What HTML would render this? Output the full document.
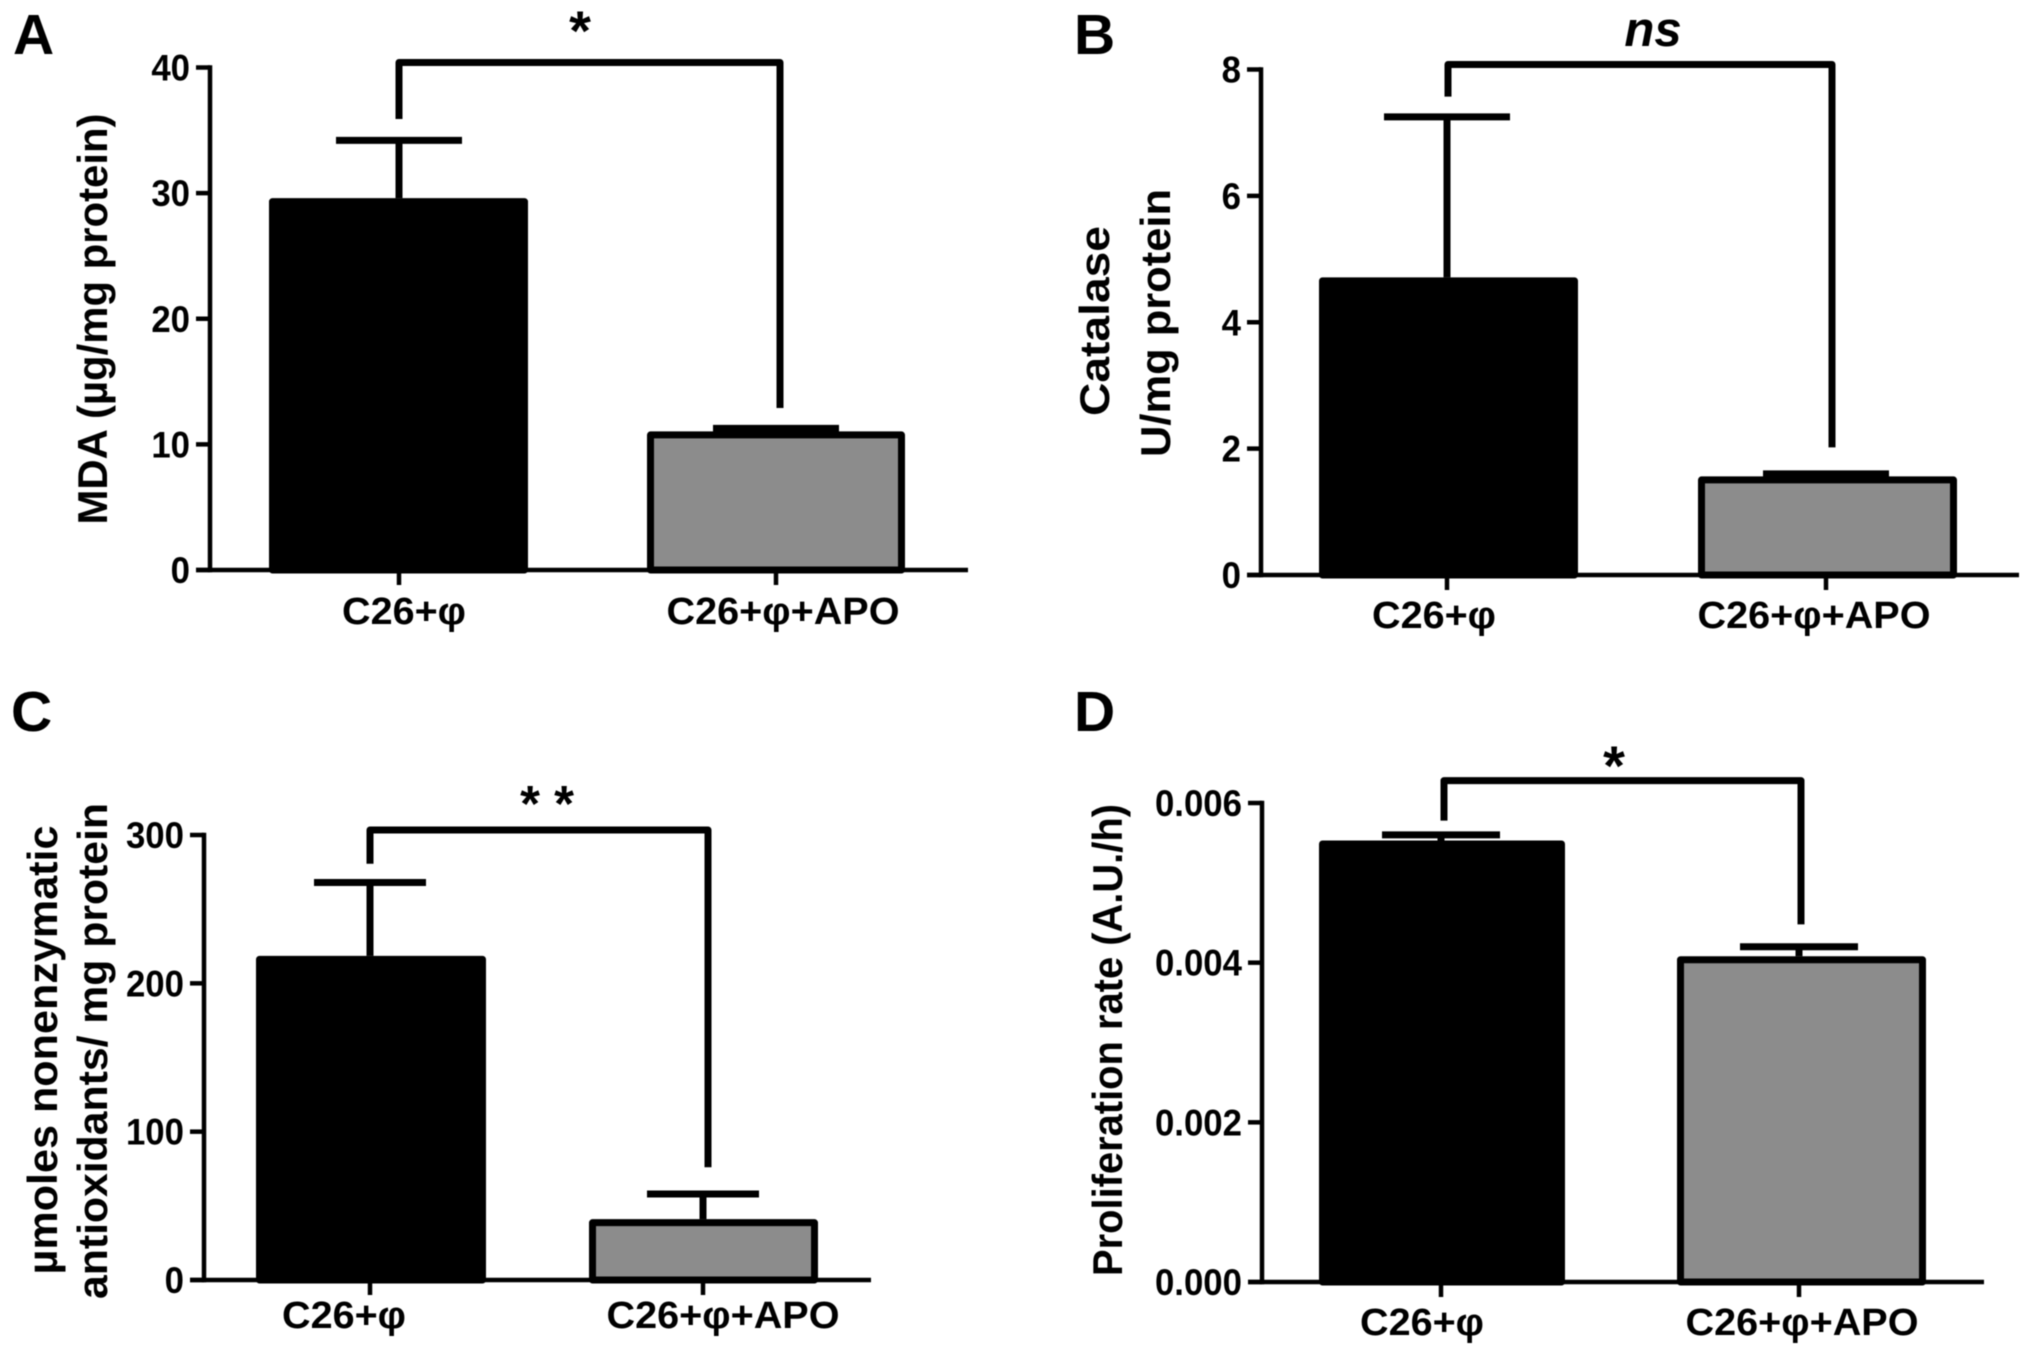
<!DOCTYPE html>
<html lang="en">
<head>
<meta charset="utf-8">
<title>Four-panel bar charts</title>
<style>
html,body{margin:0;padding:0;background:#fff;}
svg{display:block;filter:blur(0.6px);}
text{font-family:"Liberation Sans",sans-serif;font-weight:bold;fill:#000;}
.letter{font-size:57px;}
.title{font-size:42px;}
.tick{font-size:37px;}
.cat{font-size:38px;}
.sig{font-size:56px;}
.sig-double{font-size:51px;}
.ns{font-size:49px;}
</style>
</head>
<body>
<svg id="figure" xmlns="http://www.w3.org/2000/svg" width="2031" height="1357" viewBox="0 0 2031 1357">
<rect x="0" y="0" width="2031" height="1357" fill="#fff"/>

<g id="panel-a">
  <text class="letter" x="13" y="54">A</text>
  <text class="title" text-anchor="middle" transform="translate(107 319) rotate(-90)" textLength="411" lengthAdjust="spacingAndGlyphs">MDA (µg/mg protein)</text>
  <text class="sig" text-anchor="middle" x="580" y="50">*</text>
</g>
<g id="panel-b">
  <text class="letter" x="1074" y="54">B</text>
  <text class="title" text-anchor="middle" transform="translate(1109 321) rotate(-90)" textLength="190" lengthAdjust="spacingAndGlyphs">Catalase</text>
  <text class="title" text-anchor="middle" transform="translate(1170 323) rotate(-90)" textLength="268" lengthAdjust="spacingAndGlyphs">U/mg protein</text>
  <text class="ns" text-anchor="middle" font-style="italic" x="1653" y="46">ns</text>
</g>
<g id="panel-c">
  <text class="letter" x="11" y="731">C</text>
  <text class="title" text-anchor="middle" transform="translate(57 1050) rotate(-90)" textLength="449" lengthAdjust="spacingAndGlyphs">µmoles nonenzymatic</text>
  <text class="title" text-anchor="middle" transform="translate(107 1051) rotate(-90)" textLength="496" lengthAdjust="spacingAndGlyphs">antioxidants/ mg protein</text>
  <text class="sig-double" text-anchor="middle" x="547" y="821">* *</text>
</g>
<g id="panel-d">
  <text class="letter" x="1074" y="731">D</text>
  <text class="title" text-anchor="middle" transform="translate(1122 1040) rotate(-90)" textLength="472" lengthAdjust="spacingAndGlyphs">Proliferation rate (A.U./h)</text>
  <text class="sig" text-anchor="middle" x="1614" y="785">*</text>
</g>
</svg>

<script>
const categories = ['C26+φ', 'C26+φ+APO'];

const meansA = [29.6, 11.03];
const errorTopsA = [34.2, 11.27];
const tickValuesA = [0, 10, 20, 30, 40];
const tickLabelsA = ['0', '10', '20', '30', '40'];
const bracketA = [40.4, 35.9, 12.9];

const meansB = [4.71, 1.56];
const errorTopsB = [7.25, 1.6];
const tickValuesB = [0, 2, 4, 6, 8];
const tickLabelsB = ['0', '2', '4', '6', '8'];
const bracketB = [8.08, 7.57, 2.02];

const meansC = [218.5, 41];
const errorTopsC = [268, 58];
const tickValuesC = [0, 100, 200, 300];
const tickLabelsC = ['0', '100', '200', '300'];
const bracketC = [303.4, 280.6, 76];

const meansD = [0.00553, 0.00408];
const errorTopsD = [0.0056, 0.0042];
const tickValuesD = [0, 0.002, 0.004, 0.006];
const tickLabelsD = ['0.000', '0.002', '0.004', '0.006'];
const bracketD = [0.00628, 0.00578, 0.00448];

const SVG_NS = 'http://www.w3.org/2000/svg';
const BLACK = '#000';
const GREY = '#8c8c8c';
const AXIS_W = 4.5;
const BAR_STROKE = 7;

function make(tag, attrs, parent) {
  const node = document.createElementNS(SVG_NS, tag);
  for (const key in attrs) node.setAttribute(key, attrs[key]);
  parent.appendChild(node);
  return node;
}

function drawPanel(p) {
  const root = document.getElementById('panel-' + p.id);
  const yScale = v => p.y0 - (v / p.yMax) * (p.y0 - p.yTop);

  // bars with error bars
  p.means.forEach((mean, i) => {
    const cx = p.centers[i];
    const top = yScale(p.errorTops[i]);
    const stem = make('line', {x1: cx, x2: cx, y1: top, y2: yScale(mean), stroke: BLACK, 'stroke-width': p.errW}, root);
    
    
    const cap = make('line', {x1: cx - p.capHalf, x2: cx + p.capHalf, y1: top, y2: top, stroke: BLACK, 'stroke-width': p.errW}, root);
    
    
    const left = p.barLefts[i] + BAR_STROKE / 2;
    const width = p.barWidths[i] - BAR_STROKE;
    const yTopBar = yScale(mean) + BAR_STROKE / 2;
    const bar = make('rect', {x: left, y: yTopBar, width: width, height: p.y0 - yTopBar, fill: i === 0 ? BLACK : GREY, stroke: BLACK, 'stroke-width': BAR_STROKE, 'stroke-linejoin': 'round'}, root);
    
    
  });

  // y axis
  const yAxis = make('line', {x1: p.axisX, x2: p.axisX, y1: p.yTop - 2.25, y2: p.y0 + 2.25, stroke: BLACK, 'stroke-width': AXIS_W}, root);
  
  
  p.tickValues.forEach((v, i) => {
    const y = yScale(v);
    const tick = make('line', {x1: p.axisX - 14, x2: p.axisX, y1: y, y2: y, stroke: BLACK, 'stroke-width': AXIS_W}, root);
    
    
    const label = make('text', {x: p.axisX - 20, y: y + 13, 'text-anchor': 'end', class: 'tick'}, root);
    label.textContent = p.tickLabels[i];
    
    
    label.setAttribute('textLength', label.getComputedTextLength() * 0.94);
    label.setAttribute('lengthAdjust', 'spacingAndGlyphs');
  });

  // x axis
  const xAxis = make('line', {x1: p.axisX - 14, x2: p.axisRight, y1: p.y0, y2: p.y0, stroke: BLACK, 'stroke-width': AXIS_W}, root);
  
  
  categories.forEach((name, i) => {
    const cx = p.centers[i];
    const tick = make('line', {x1: cx, x2: cx, y1: p.y0, y2: p.y0 + 15, stroke: BLACK, 'stroke-width': AXIS_W}, root);
    
    
    const label = make('text', {x: cx + 5 + p.catDx[i], y: p.y0 + p.catOffset, 'text-anchor': 'middle', class: 'cat', textLength: i === 0 ? 124 : 233, lengthAdjust: 'spacingAndGlyphs'}, root);
    label.textContent = name;
    
    
  });

  // significance bracket
  const [topV, leftV, rightV] = p.bracket;
  const path = make('path', {
    d: 'M' + p.bracketLeft + ' ' + yScale(leftV) + 'L' + p.bracketLeft + ' ' + yScale(topV) +
       'L' + p.bracketRight + ' ' + yScale(topV) + 'L' + p.bracketRight + ' ' + yScale(rightV),
    fill: 'none', stroke: BLACK, 'stroke-width': p.bracketW, 'stroke-linejoin': 'round'
  }, root);
  
  
}

drawPanel({id: 'a', means: meansA, errorTops: errorTopsA, tickValues: tickValuesA, tickLabels: tickLabelsA, bracket: bracketA,
  yMax: 40, y0: 570, yTop: 67.5, axisX: 210, axisRight: 968, centers: [399, 776], barLefts: [269, 647], barWidths: [259, 258],
  capHalf: 63, errW: 7, bracketLeft: 399, bracketRight: 780, bracketW: 7, catOffset: 54, catDx: [0, 2]});
drawPanel({id: 'b', means: meansB, errorTops: errorTopsB, tickValues: tickValuesB, tickLabels: tickLabelsB, bracket: bracketB,
  yMax: 8, y0: 575, yTop: 69.5, axisX: 1261, axisRight: 2019, centers: [1447, 1826], barLefts: [1319, 1698], barWidths: [259, 259],
  capHalf: 63, errW: 7, bracketLeft: 1448, bracketRight: 1832, bracketW: 7, catOffset: 53, catDx: [-18, -17]});
drawPanel({id: 'c', means: meansC, errorTops: errorTopsC, tickValues: tickValuesC, tickLabels: tickLabelsC, bracket: bracketC,
  yMax: 300, y0: 1280, yTop: 835, axisX: 204, axisRight: 871, centers: [370, 703], barLefts: [256, 589], barWidths: [230, 229],
  capHalf: 56, errW: 7, bracketLeft: 370, bracketRight: 708, bracketW: 7, catOffset: 48, catDx: [-31, 15]});
drawPanel({id: 'd', means: meansD, errorTops: errorTopsD, tickValues: tickValuesD, tickLabels: tickLabelsD, bracket: bracketD,
  yMax: 0.006, y0: 1282, yTop: 803, axisX: 1262, axisRight: 1984, centers: [1441, 1799], barLefts: [1319, 1677], barWidths: [246, 249],
  capHalf: 59, errW: 7, bracketLeft: 1444, bracketRight: 1801, bracketW: 7, catOffset: 53, catDx: [-24, -2]});
</script>
</body>
</html>
